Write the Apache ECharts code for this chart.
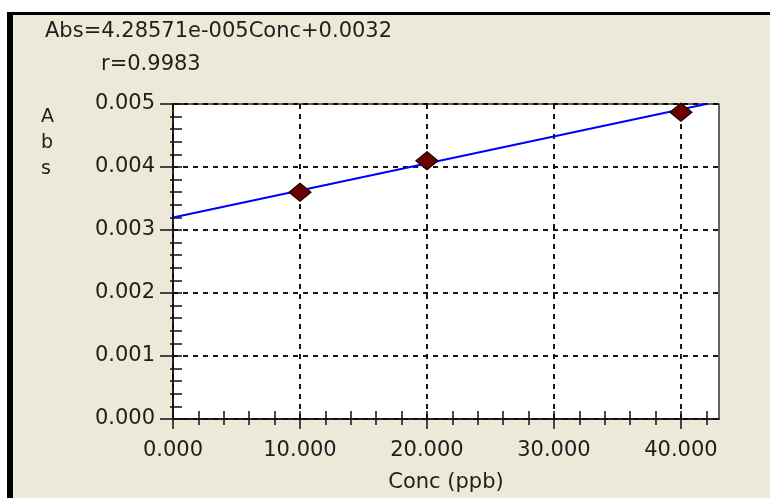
<!DOCTYPE html>
<html lang="en">
<head>
  <meta charset="UTF-8">
  <title>Abs vs Conc</title>
  <script src="https://cdn.jsdelivr.net/npm/echarts@6/dist/echarts.min.js"></script>
  <style>
    html, body { margin: 0; padding: 0; background: #fff; }
    #frame {
      position: absolute; left: 7px; top: 12px; right: 0; bottom: 0;
      background: #ECE9D8; border-left: 6px solid #000; border-top: 3px solid #000;
    }
    #main { position: absolute; left: 0; top: 0; width: 770px; height: 498px; }
  </style>
</head>
<body>
  <div id="frame"></div>
  <div id="main"></div>

  <script type="text/javascript">
    // calibration standards
    var concValues = [10, 20, 40];
    var absValues = [0.0036, 0.0041, 0.00487];
    // fitted line, end points as drawn
    var fitConc = [0, 42];
    var fitAbs = [0.0032, 0.005];
    // ticks
    var xMajor = [0, 10, 20, 30, 40];
    var xMinor = [2, 4, 6, 8, 12, 14, 16, 18, 22, 24, 26, 28, 32, 34, 36, 38, 42];
    var yMajor = [0, 0.001, 0.002, 0.003, 0.004, 0.005];
    var yMinor = [0.0002, 0.0004, 0.0006, 0.0008, 0.0012, 0.0014, 0.0016, 0.0018,
                  0.0022, 0.0024, 0.0026, 0.0028, 0.0032, 0.0034, 0.0036, 0.0038,
                  0.0042, 0.0044, 0.0046, 0.0048];

    var font = 'DejaVu Sans';
    var ink = '#1e1e1e';

    var points = concValues.map(function (c, i) { return [c, absValues[i]]; });
    var fitLine = fitConc.map(function (c, i) { return [c, fitAbs[i]]; });

    // extra axes only draw the ticks that cross the axis line
    function tickAxis(type, values, len) {
      return {
        type: 'value', min: 0, max: type == 'x' ? 43 : 0.005,
        position: type == 'x' ? 'bottom' : 'left',
        offset: type == 'x' ? -8 : -9,
        axisLine: { show: false },
        axisLabel: { show: false },
        splitLine: { show: false },
        axisTick: { show: true, length: len, customValues: values,
                    lineStyle: { color: '#111', width: 1.5 } }
      };
    }

    var myChart = echarts.init(document.getElementById('main'));
    myChart.setOption({
      animation: false,
      grid: {
        left: 173, right: 51, top: 104, bottom: 75,
        show: true, backgroundColor: '#fff', borderColor: '#333', borderWidth: 1.5
      },
      graphic: [
        { type: 'text', left: 45, top: 21,
          style: { text: 'Abs=4.28571e-005Conc+0.0032', font: '21px "' + font + '"', fill: ink } },
        { type: 'text', left: 101, top: 54,
          style: { text: 'r=0.9983', font: '21px "' + font + '"', fill: ink } },
        { type: 'text', left: 41, top: 104,
          style: { text: 'A\nb\ns', font: '19px "' + font + '"', fill: ink,
                   lineHeight: 26, align: 'center' } }
      ],
      xAxis: [
        {
          type: 'value', min: 0, max: 43, position: 'bottom',
          name: 'Conc (ppb)', nameLocation: 'middle', nameGap: 53,
          nameTextStyle: { fontFamily: font, fontSize: 21, color: ink },
          axisLine: { show: true, lineStyle: { color: '#111', width: 1.5 } },
          axisTick: { show: false, customValues: xMajor },
          axisLabel: {
            customValues: xMajor, margin: 21, fontFamily: font, fontSize: 21, color: ink,
            formatter: function (v) { return v.toFixed(3); }
          },
          splitLine: { show: true, lineStyle: { color: '#000', type: [5, 5], width: 1.8 } }
        },
        tickAxis('x', xMajor, 18),
        tickAxis('x', xMinor, 14)
      ],
      yAxis: [
        {
          type: 'value', min: 0, max: 0.005, interval: 0.001, position: 'left',
          axisLine: { show: true, lineStyle: { color: '#111', width: 1.5 } },
          axisTick: { show: false },
          axisLabel: {
            margin: 18, fontFamily: font, fontSize: 21, color: ink,
            formatter: function (v) { return v.toFixed(3); }
          },
          splitLine: { show: true, lineStyle: { color: '#000', type: [5, 5], width: 1.8 } }
        },
        tickAxis('y', yMajor, 22),
        tickAxis('y', yMinor, 12)
      ],
      series: [
        {
          type: 'line', data: fitLine, showSymbol: false, symbol: 'none',
          lineStyle: { color: '#0000ff', width: 2 }, z: 2
        },
        {
          type: 'scatter', data: points, symbol: 'diamond', symbolSize: [22, 18],
          itemStyle: { color: '#6a0000', borderColor: '#140000', borderWidth: 1.2, opacity: 1 }, z: 3
        }
      ]
    });
  </script>
</body>
</html>
